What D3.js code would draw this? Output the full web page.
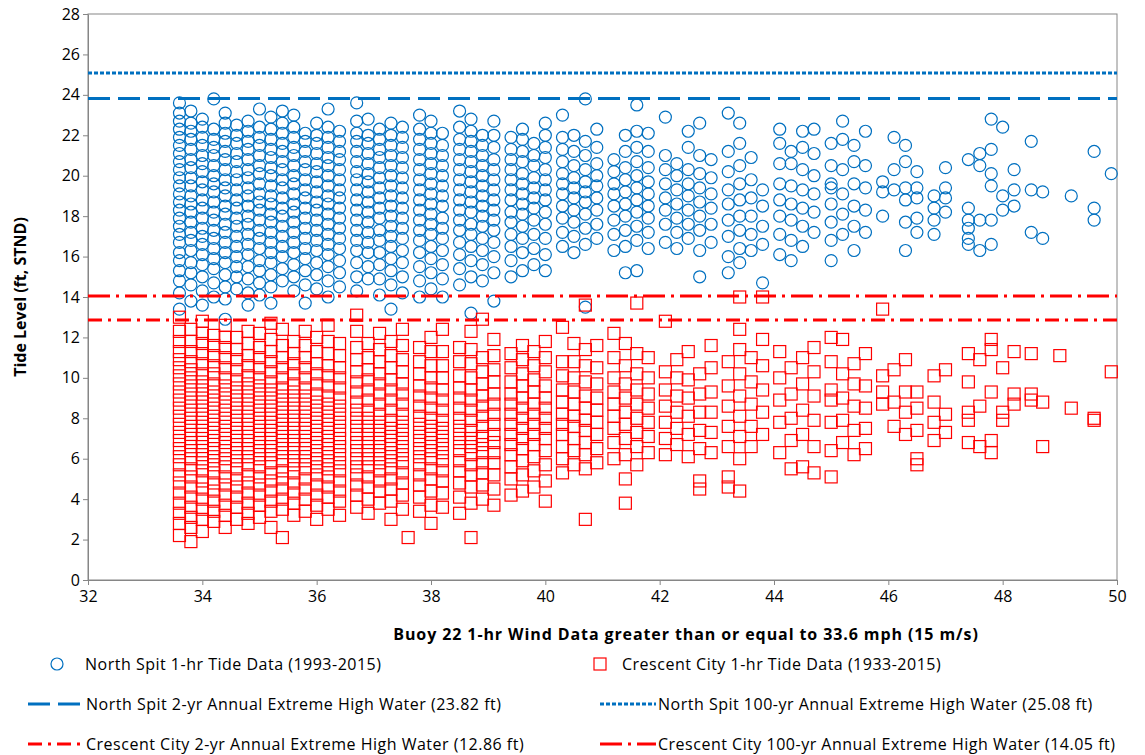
<!DOCTYPE html>
<html><head><meta charset="utf-8">
<script src="https://cdn.jsdelivr.net/npm/d3@7/dist/d3.min.js"></script>
<style>body{margin:0;background:#fff}text{font-family:"Open Sans","Liberation Sans",Arial,sans-serif}</style>
</head><body><svg id="c" width="1145" height="755"></svg>
<script>
// North Spit: "x: y y y ..."
const northSpit = [
"33.6: 13.4 14.2 14.8 15.3 15.8 16.2 16.7 17.1 17.5 17.9 18.3 18.7 19.1 19.5 19.9 20.3 20.7 21.1 21.5 21.9 22.3 22.7 23.1 23.6",
"33.8: 13.8 14.6 15.2 15.7 16.3 16.8 17.2 17.7 18.2 18.6 19.0 19.5 19.9 20.4 20.8 21.3 21.8 22.2 22.6 23.2",
"34.0: 13.6 14.3 15.0 15.6 16.1 16.6 17.0 17.4 17.9 18.4 18.8 19.3 19.7 20.2 20.6 21.0 21.5 21.9 22.4 22.8",
"34.2: 14.0 14.7 15.4 15.9 16.4 16.9 17.3 17.8 18.2 18.7 19.2 19.6 20.0 20.5 21.0 21.4 21.8 22.3 23.8",
"34.4: 12.9 13.9 14.5 15.1 15.7 16.2 16.7 17.2 17.6 18.1 18.5 19.0 19.4 19.8 20.3 20.8 21.2 21.7 22.1 22.6 23.1",
"34.6: 14.4 15.0 15.5 16.0 16.5 17.0 17.5 17.9 18.4 18.8 19.3 19.8 20.2 20.7 21.1 21.6 22.0 22.5",
"34.8: 13.6 14.2 14.9 15.5 16.1 16.6 17.1 17.6 18.0 18.5 19.0 19.4 19.9 20.3 20.8 21.3 21.7 22.2 22.7",
"35.0: 14.1 14.7 15.3 15.8 16.4 16.9 17.3 17.8 18.3 18.7 19.1 19.6 20.1 20.5 21.0 21.5 21.9 22.4 23.3",
"35.2: 13.7 14.5 15.1 15.7 16.2 16.7 17.2 17.7 18.1 18.6 19.0 19.5 20.0 20.4 20.9 21.3 21.8 22.3 22.9",
"35.4: 14.8 15.4 16.0 16.5 17.0 17.5 18.0 18.4 18.9 19.4 19.8 20.3 20.7 21.2 21.6 22.1 22.6 23.2",
"35.6: 14.3 15.0 15.6 16.2 16.7 17.2 17.7 18.2 18.6 19.1 19.6 20.0 20.5 21.0 21.4 21.9 22.4 23.0",
"35.8: 13.7 14.6 15.3 15.9 16.4 16.9 17.4 17.9 18.4 18.9 19.3 19.8 20.3 20.7 21.2 21.7 22.1",
"36.0: 14.4 15.1 15.7 16.3 16.8 17.3 17.8 18.3 18.7 19.2 19.7 20.2 20.6 21.1 21.6 22.0 22.6",
"36.2: 14.0 14.8 15.5 16.1 16.6 17.1 17.6 18.1 18.6 19.0 19.5 20.0 20.5 20.9 21.4 21.9 22.4 23.3",
"36.4: 14.5 15.2 15.8 16.4 16.9 17.4 17.9 18.4 18.9 19.3 19.8 20.3 20.8 21.2 21.7 22.2",
"36.7: 14.3 15.0 15.7 16.3 16.8 17.3 17.8 18.3 18.8 19.3 19.8 20.2 20.7 21.2 21.7 22.1 22.7 23.6",
"36.9: 14.9 15.5 16.2 16.7 17.2 17.7 18.2 18.7 19.2 19.7 20.1 20.6 21.1 21.6 22.0 22.8",
"37.1: 14.1 14.9 15.6 16.2 16.8 17.3 17.9 18.4 18.9 19.4 19.9 20.4 20.9 21.3 21.8 22.3",
"37.3: 13.4 14.6 15.3 15.9 16.5 17.0 17.5 18.0 18.5 19.0 19.5 20.0 20.5 21.0 21.5 22.0 22.6",
"37.5: 14.2 15.0 15.7 16.3 16.9 17.4 17.9 18.4 18.9 19.4 19.9 20.4 20.9 21.4 21.9 22.4",
"37.8: 14.0 14.8 15.5 16.2 16.8 17.3 17.8 18.3 18.8 19.3 19.8 20.3 20.8 21.3 21.8 22.3 23.0",
"38.0: 14.4 15.2 15.9 16.5 17.1 17.6 18.1 18.6 19.1 19.6 20.1 20.6 21.1 21.6 22.1 22.7",
"38.2: 14.0 14.9 15.6 16.3 16.9 17.4 17.9 18.5 19.0 19.5 20.0 20.5 21.0 21.5 22.1",
"38.5: 14.6 15.4 16.1 16.7 17.3 17.8 18.3 18.8 19.3 19.8 20.3 20.8 21.3 21.8 22.4 23.2",
"38.7: 13.2 15.0 15.8 16.5 17.1 17.6 18.2 18.7 19.2 19.7 20.2 20.7 21.2 21.7 22.2 22.8",
"38.9: 14.8 15.6 16.3 16.9 17.5 18.0 18.5 19.0 19.5 20.0 20.5 21.0 21.5 22.0",
"39.1: 13.8 15.2 16.0 16.7 17.3 17.8 18.3 18.8 19.3 19.8 20.3 20.8 21.4 22.0 22.7",
"39.4: 15.0 15.8 16.5 17.1 17.7 18.2 18.8 19.3 19.8 20.3 20.8 21.3 21.9",
"39.6: 15.3 16.2 16.9 17.5 18.1 18.6 19.1 19.6 20.1 20.7 21.2 21.8 22.3",
"39.8: 15.6 16.4 17.1 17.8 18.4 18.9 19.4 19.9 20.5 21.0 21.6",
"40.0: 15.3 16.1 16.9 17.6 18.2 18.8 19.3 19.8 20.3 20.9 21.4 22.0 22.6",
"40.3: 16.5 17.2 17.9 18.5 19.1 19.6 20.1 20.7 21.3 21.9 23.0",
"40.5: 16.2 17.0 17.7 18.3 18.9 19.4 19.9 20.5 21.2 22.0",
"40.7: 13.5 16.6 17.4 18.1 18.7 19.2 19.7 20.3 21.0 21.7 23.8",
"40.9: 16.9 17.6 18.3 18.9 19.5 20.0 20.6 21.4 22.3",
"41.2: 16.3 17.1 17.8 18.5 19.1 19.6 20.2 20.8",
"41.4: 15.2 16.5 17.3 18.0 18.6 19.2 19.8 20.4 21.2 22.0",
"41.6: 15.3 16.8 17.5 18.2 18.8 19.4 20.0 20.7 21.4 22.2 23.5",
"41.8: 16.4 17.2 17.9 18.5 19.1 19.7 20.4 21.2 22.1",
"42.1: 16.7 17.6 18.3 18.9 19.6 20.3 21.0 22.9",
"42.3: 16.4 17.2 17.9 18.6 19.3 20.0 20.6",
"42.5: 16.9 17.6 18.3 19.0 19.6 20.3 21.4 22.2",
"42.7: 15.0 16.3 17.3 18.0 18.7 19.4 20.1 21.0 22.6",
"42.9: 16.7 17.6 18.4 19.1 19.9 20.8",
"43.2: 15.2 16.0 17.0 17.8 18.6 19.3 20.2 21.2 23.1",
"43.4: 15.7 16.4 17.3 18.0 18.8 19.6 20.5 21.6 22.6",
"43.6: 16.3 17.1 18.0 18.9 19.8 20.9",
"43.8: 14.7 16.6 17.5 18.5 19.3",
"44.1: 16.1 17.1 18.0 18.8 19.6 20.6 21.6 22.3",
"44.3: 15.8 16.8 17.8 18.6 19.5 20.6 21.2",
"44.5: 16.5 17.5 18.4 19.3 20.3 21.4 22.2",
"44.7: 17.2 18.2 19.1 20.0 21.1 22.3",
"45.0: 15.8 16.8 17.7 18.6 19.4 19.6 20.5 21.6",
"45.2: 17.1 18.1 19.1 20.3 21.8 22.7",
"45.4: 16.3 17.5 18.5 19.6 20.7 21.5",
"45.6: 17.2 18.3 19.4 20.5 22.2",
"45.9: 18.0 19.2 19.7",
"46.1: 19.3 20.3 21.9",
"46.3: 16.3 17.7 18.8 19.4 20.7 21.5",
"46.5: 17.2 17.9 18.9 19.4 20.2",
"46.8: 17.1 17.8 18.4 19.0",
"47.0: 18.2 18.9 19.4 20.4",
"47.4: 16.6 16.9 17.4 17.8 18.4 20.8",
"47.6: 16.3 17.8 20.5 21.1",
"47.8: 16.6 17.8 19.5 20.1 21.3 22.8",
"48.0: 18.3 19.0 22.4",
"48.2: 18.5 19.3 20.3",
"48.5: 17.2 19.3 21.7",
"48.7: 16.9 19.2",
"49.2: 19.0",
"49.6: 17.8 18.4 21.2",
"49.9: 20.1"
];
const crescentCity = [
"33.6: 2.2 2.8 3.3 3.8 4.3 4.8 5.2 5.7 6.1 6.5 6.9 7.3 7.7 8.1 8.5 8.9 9.3 9.7 10.1 10.5 10.9 11.3 11.8 12.3 13.0",
"33.8: 1.9 2.6 3.1 3.6 4.1 4.6 5.1 5.5 6.0 6.4 6.8 7.2 7.6 8.0 8.4 8.8 9.2 9.6 10.0 10.4 10.8 11.3 11.8 12.4",
"34.0: 2.4 3.0 3.5 4.0 4.5 4.9 5.4 5.8 6.2 6.6 7.0 7.4 7.8 8.2 8.6 9.0 9.4 9.8 10.2 10.7 11.2 11.7 12.2 12.8",
"34.2: 2.9 3.4 3.9 4.4 4.8 5.3 5.7 6.1 6.5 6.9 7.3 7.7 8.1 8.5 8.9 9.3 9.7 10.2 10.6 11.1 11.6 12.1",
"34.4: 2.6 3.2 3.7 4.2 4.7 5.1 5.6 6.0 6.4 6.8 7.2 7.6 8.0 8.4 8.8 9.2 9.6 10.0 10.5 11.0 11.5 12.0 12.6",
"34.6: 3.0 3.6 4.1 4.6 5.0 5.5 5.9 6.3 6.7 7.1 7.5 7.9 8.3 8.7 9.1 9.5 9.9 10.4 10.9 11.4 12.0",
"34.8: 2.8 3.3 3.8 4.3 4.8 5.2 5.7 6.1 6.5 6.9 7.3 7.7 8.1 8.5 8.9 9.3 9.7 10.1 10.6 11.1 11.7 12.3",
"35.0: 3.1 3.7 4.2 4.7 5.1 5.6 6.0 6.4 6.8 7.2 7.6 8.0 8.4 8.8 9.2 9.6 10.0 10.5 11.0 11.5 12.2",
"35.2: 2.6 3.4 3.9 4.4 4.9 5.3 5.8 6.2 6.6 7.0 7.4 7.8 8.2 8.6 9.0 9.4 9.8 10.3 10.8 11.3 11.9 12.7",
"35.4: 2.1 3.5 4.0 4.5 5.0 5.4 5.9 6.3 6.7 7.1 7.5 7.9 8.3 8.7 9.1 9.5 10.0 10.5 11.0 11.6 12.4",
"35.6: 3.2 3.8 4.3 4.8 5.3 5.7 6.1 6.5 6.9 7.3 7.7 8.1 8.5 8.9 9.3 9.7 10.2 10.7 11.2 11.8",
"35.8: 3.4 4.0 4.5 5.0 5.5 5.9 6.3 6.7 7.1 7.5 7.9 8.3 8.7 9.1 9.5 10.0 10.5 11.0 11.6 12.3",
"36.0: 3.0 3.7 4.2 4.7 5.2 5.6 6.0 6.4 6.8 7.2 7.6 8.0 8.4 8.8 9.2 9.7 10.2 10.7 11.3 12.0",
"36.2: 3.5 4.1 4.6 5.1 5.5 5.9 6.3 6.7 7.1 7.5 7.9 8.3 8.7 9.1 9.6 10.1 10.6 11.2 11.8 12.6",
"36.4: 3.2 3.9 4.4 4.9 5.4 5.8 6.2 6.6 7.0 7.4 7.8 8.2 8.6 9.0 9.5 10.0 10.5 11.1 11.7",
"36.7: 3.6 4.2 4.7 5.2 5.6 6.0 6.4 6.8 7.2 7.6 8.0 8.4 8.8 9.3 9.8 10.3 10.9 11.5 12.3 13.1",
"36.9: 3.3 4.0 4.6 5.1 5.6 6.0 6.4 6.8 7.2 7.6 8.0 8.4 8.9 9.4 9.9 10.4 11.0 11.7",
"37.1: 3.8 4.4 4.9 5.4 5.8 6.2 6.6 7.0 7.4 7.8 8.2 8.7 9.2 9.7 10.2 10.8 11.4 12.2",
"37.3: 3.0 3.9 4.5 5.0 5.5 5.9 6.3 6.7 7.1 7.5 7.9 8.4 8.9 9.4 9.9 10.5 11.1 11.8",
"37.5: 3.5 4.2 4.8 5.3 5.8 6.2 6.6 7.0 7.4 7.8 8.2 8.7 9.2 9.7 10.3 10.9 11.6 12.4",
"37.6: 2.1",
"37.8: 3.4 4.1 4.7 5.2 5.7 6.1 6.5 6.9 7.3 7.7 8.1 8.6 9.1 9.6 10.2 10.8 11.5",
"38.0: 2.8 3.7 4.4 5.0 5.5 6.0 6.4 6.8 7.2 7.6 8.0 8.5 9.0 9.5 10.0 10.6 11.3 12.0",
"38.2: 3.6 4.3 4.9 5.4 5.9 6.3 6.7 7.1 7.5 7.9 8.4 8.9 9.4 10.0 10.6 11.3 12.4",
"38.5: 3.3 4.1 4.8 5.4 5.9 6.4 6.8 7.2 7.6 8.0 8.5 9.0 9.5 10.1 10.8 11.5",
"38.7: 2.1 3.8 4.6 5.2 5.7 6.2 6.6 7.0 7.4 7.9 8.4 8.9 9.4 10.0 10.7 11.4 12.3",
"38.9: 4.0 4.7 5.3 5.8 6.3 6.7 7.1 7.6 8.1 8.6 9.1 9.7 10.3 11.0 12.9",
"39.1: 3.7 4.5 5.2 5.8 6.3 6.8 7.2 7.7 8.2 8.7 9.2 9.8 10.4 11.1 11.9",
"39.4: 4.2 5.0 5.6 6.2 6.7 7.2 7.7 8.2 8.7 9.2 9.8 10.5 11.2",
"39.6: 4.4 5.2 5.9 6.5 7.0 7.5 8.0 8.5 9.0 9.6 10.2 10.9 11.6",
"39.8: 4.6 5.4 6.1 6.7 7.2 7.7 8.2 8.7 9.3 9.9 10.6 11.3",
"40.0: 3.9 4.9 5.7 6.4 7.0 7.5 8.0 8.5 9.0 9.6 10.3 11.0 11.8",
"40.3: 5.3 6.0 6.6 7.2 7.7 8.2 8.8 9.4 10.1 10.8 12.5",
"40.5: 5.7 6.4 7.0 7.6 8.1 8.7 9.3 10.0 10.8 11.7",
"40.7: 3.0 5.5 6.2 6.8 7.4 7.9 8.5 9.1 9.8 10.6 11.4 13.6",
"40.9: 5.8 6.5 7.2 7.8 8.4 9.0 9.7 10.5 11.6",
"41.2: 6.0 6.8 7.5 8.1 8.7 9.3 10.0 11.0 12.2",
"41.4: 3.8 5.0 6.2 7.0 7.7 8.3 9.0 9.7 10.6 11.7",
"41.6: 5.7 6.6 7.3 8.0 8.7 9.4 10.2 11.2 13.7",
"41.8: 6.3 7.1 7.8 8.5 9.2 10.0 11.0",
"42.1: 6.2 7.0 7.8 8.6 9.4 10.3 12.8",
"42.3: 6.7 7.5 8.3 9.1 10.0 10.9",
"42.5: 6.1 7.2 8.1 9.0 9.9 11.3",
"42.7: 4.5 4.9 6.5 7.4 8.3 9.2 10.2",
"42.9: 6.3 7.3 8.3 9.3 10.5 11.6",
"43.2: 4.6 5.1 6.6 7.6 8.6 9.6 10.8",
"43.4: 4.4 6.0 7.1 8.1 9.1 10.2 11.4 12.4 14.0",
"43.6: 6.6 7.6 8.7 9.8 11.0",
"43.8: 7.2 8.3 9.4 10.6 11.9 14.0",
"44.1: 6.3 7.8 8.9 10.0 11.3",
"44.3: 5.5 6.9 8.0 9.2 10.5",
"44.5: 5.6 7.2 8.4 9.7 11.0",
"44.7: 5.3 6.6 7.9 9.1 10.3 11.5",
"45.0: 5.1 6.4 7.8 8.9 9.4 10.8 12.0",
"45.2: 6.8 7.9 9.0 10.2 11.9",
"45.4: 6.2 7.4 8.6 9.7 10.7",
"45.6: 6.5 7.5 8.5 9.6 11.2",
"45.9: 8.7 9.3 10.1 13.4",
"46.1: 7.6 8.8 10.4",
"46.3: 7.2 8.3 9.3 10.9",
"46.5: 5.7 6.0 7.4 8.5 9.3",
"46.8: 6.9 7.8 8.8 10.1",
"47.0: 7.3 8.2 10.4",
"47.4: 6.8 7.9 8.3 9.8 11.2",
"47.6: 6.6 8.6 10.9",
"47.8: 6.3 6.9 9.3 11.4 11.9",
"48.0: 7.9 8.3 10.5",
"48.2: 8.7 9.2 11.3",
"48.5: 8.9 9.2 11.2",
"48.7: 6.6 8.8",
"49.0: 11.1",
"49.2: 8.5",
"49.6: 7.9 8.0",
"49.9: 10.3"
];
const xTicks = [32,34,36,38,40,42,44,46,48,50];
const yTicks = [0,2,4,6,8,10,12,14,16,18,20,22,24,26,28];
const refLines = [
 {label:"North Spit 2-yr Annual Extreme High Water (23.82 ft)", v:23.82, color:"#0070C0", dash:"22,8"},
 {label:"North Spit 100-yr Annual Extreme High Water (25.08 ft)", v:25.08, color:"#0070C0", dash:"4,2"},
 {label:"Crescent City 2-yr Annual Extreme High Water (12.86 ft)", v:12.86, color:"#FF0000", dash:"14,6,3,6"},
 {label:"Crescent City 100-yr Annual Extreme High Water (14.05 ft)", v:14.05, color:"#FF0000", dash:"22,6,3,6"}
];
function parse(arr){const o=[];arr.forEach(s=>{const [a,b]=s.split(":");b.trim().split(/\s+/).forEach(y=>o.push([+a,+y]));});return o;}
const ns=parse(northSpit), cc=parse(crescentCity);

const svg=d3.select("#c");
const m={l:88,r:1117,t:14,b:580};
const x=d3.scaleLinear().domain([32,50]).range([m.l,m.r]);
const y=d3.scaleLinear().domain([0,28]).range([m.b,m.t]);
svg.append("rect").attr("x",m.l).attr("y",m.t).attr("width",m.r-m.l).attr("height",m.b-m.t).attr("fill","none").attr("stroke","#868686");
const gx=svg.append("g").attr("transform",`translate(0,${m.b})`).call(d3.axisBottom(x).tickValues(xTicks).tickSize(5).tickSizeOuter(0));
const gy=svg.append("g").attr("transform",`translate(${m.l},0)`).call(d3.axisLeft(y).tickValues(yTicks).tickSize(5).tickSizeOuter(0));
[gx,gy].forEach(g=>{g.select(".domain").attr("stroke","#868686");g.selectAll("line").attr("stroke","#868686");g.selectAll("text").attr("font-size",16).attr("fill","#000");});
gx.selectAll("text").attr("dy","0.9em");
svg.append("text").attr("x",686).attr("y",640).attr("text-anchor","middle").attr("font-size",16).attr("letter-spacing","0.9px").attr("font-weight","bold").text("Buoy 22 1-hr Wind Data greater than or equal to 33.6 mph (15 m/s)");
svg.append("text").attr("transform",`translate(26,${(m.t+m.b)/2}) rotate(-90)`).attr("text-anchor","middle").attr("font-size",16).attr("font-weight","bold").text("Tide Level (ft, STND)");

svg.append("g").selectAll("circle").data(ns).join("circle").attr("cx",d=>x(d[0])).attr("cy",d=>y(d[1])).attr("r",6).attr("fill","none").attr("stroke","#0070C0").attr("stroke-width",1.2);
svg.append("g").selectAll("rect").data(cc).join("rect").attr("x",d=>x(d[0])-6).attr("y",d=>y(d[1])-6).attr("width",12).attr("height",12).attr("fill","none").attr("stroke","#FF0000").attr("stroke-width",1.2);
svg.append("g").selectAll("line").data(refLines).join("line").attr("x1",m.l).attr("x2",m.r).attr("y1",d=>y(d.v)).attr("y2",d=>y(d.v)).attr("stroke",d=>d.color).attr("stroke-width",3).attr("stroke-dasharray",d=>d.dash);

// legend
const L=svg.append("g").attr("font-size",16).attr("letter-spacing","0.5px");
L.append("circle").attr("cx",57).attr("cy",664).attr("r",6).attr("fill","none").attr("stroke","#0070C0").attr("stroke-width",1.2);
L.append("text").attr("x",85).attr("y",670).text("North Spit 1-hr Tide Data (1993-2015)");
L.append("rect").attr("x",594).attr("y",658).attr("width",12).attr("height",12).attr("fill","none").attr("stroke","#FF0000").attr("stroke-width",1.2);
L.append("text").attr("x",622).attr("y",670).text("Crescent City 1-hr Tide Data (1933-2015)");
const pos=[[28,704],[600,704],[28,744],[600,744]];
refLines.forEach((d,i)=>{const [lx,ly]=pos[i];
 L.append("line").attr("x1",lx).attr("x2",lx+56).attr("y1",ly).attr("y2",ly).attr("stroke",d.color).attr("stroke-width",3).attr("stroke-dasharray",d.dash);
 L.append("text").attr("x",lx+58).attr("y",ly+6).text(d.label);});
</script></body></html>
